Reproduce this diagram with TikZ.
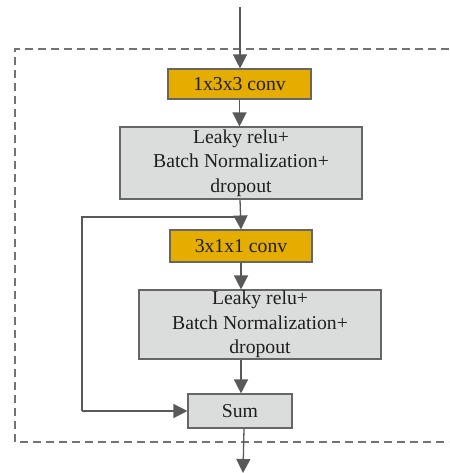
\documentclass[tikz,border=0pt]{standalone}
\usepackage{fontspec}
\setmainfont{Liberation Serif}
\usetikzlibrary{arrows.meta}
\definecolor{gold}{HTML}{E5AD00}
\definecolor{lgray}{HTML}{DBDCDC}
\definecolor{edgec}{HTML}{666666}
\definecolor{arrc}{HTML}{595959}
\tikzset{
  box/.style={draw=edgec, line width=1.1pt, inner sep=0pt, align=center,
    font=\fontsize{19.7}{24.5}\selectfont, text=black!88},
  convbox/.style={box, fill=gold},
  opbox/.style={box, fill=lgray},
  conn/.style={draw=arrc, line width=1.3pt, -{Triangle[length=14pt,width=14pt]}},
  plain/.style={draw=arrc, line width=1.3pt},
  frame/.style={draw=black!55, line width=1.1pt, dash pattern=on 8pt off 5pt}
}
\begin{document}
\begin{tikzpicture}[x=1pt,y=-1pt]
\useasboundingbox (0,0) rectangle (449,473);
\draw[frame] (449,49) -- (15,49) -- (15,442) -- (449,442);
\node[convbox, minimum width=143pt, minimum height=30pt] (c1) at (239.5,84) {1x3x3 conv};
\node[opbox, minimum width=242pt, minimum height=72pt] (b1) at (241,163) {Leaky relu+\\Batch Normalization+\\dropout};
\node[convbox, minimum width=142pt, minimum height=32pt] (c2) at (241,246) {3x1x1 conv};
\node[opbox, minimum width=242pt, minimum height=69pt] (b2) at (260,324.5) {Leaky relu+\\Batch Normalization+\\dropout};
\node[opbox, minimum width=104pt, minimum height=34pt] (s) at (240,411) {Sum};
\coordinate (in) at (240,7);
\coordinate (out) at (243,473);
\coordinate (split) at (240.5,217);
\coordinate (corner1) at (82,217);
\coordinate (corner2) at (82,411);
\draw[conn] (in) -- (in |- c1.north);
\draw[conn] (c1.south) -- (c1.south |- b1.north);
\draw[conn] (b1.south -| 240,0) -- (c2.north);
\draw[plain] (split) -- (corner1) -- (corner2);
\draw[conn] (corner2) -- (s.west);
\draw[conn] (c2.south) -- (c2.south |- b2.north);
\draw[conn] (c2.south |- b2.south) -- (c2.south |- s.north);
\draw[conn] (s.south -| 244,0) -- (out);
\end{tikzpicture}
\end{document}
